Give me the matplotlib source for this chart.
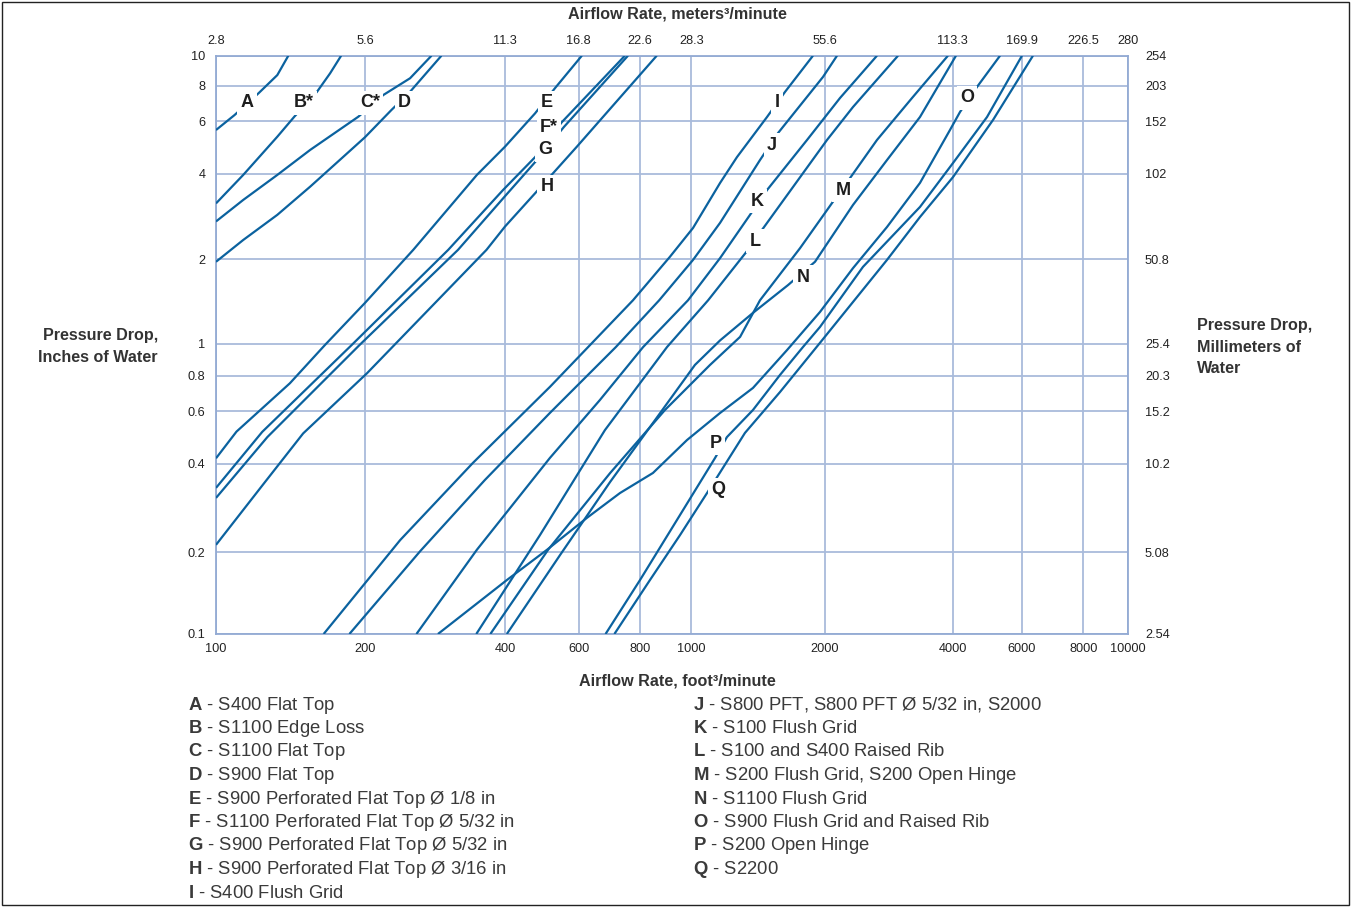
import numpy as np
import matplotlib
matplotlib.use("Agg")
import matplotlib.pyplot as plt
from matplotlib import font_manager as fm
from matplotlib.patches import Rectangle

# ---------------- data ----------------
X_TICKS = [100, 200, 400, 600, 800, 1000, 2000, 4000, 6000, 8000, 10000]
X_TOP_LABELS = ["2.8", "5.6", "11.3", "16.8", "22.6", "28.3", "55.6", "113.3", "169.9", "226.5", "280"]
Y_TICKS = [0.1, 0.2, 0.4, 0.6, 0.8, 1, 2, 4, 6, 8, 10]
Y_RIGHT_LABELS = ["2.54", "5.08", "10.2", "15.2", "20.3", "25.4", "50.8", "102", "152", "203", "254"]

A_x = [100, 109, 122, 133, 140]
A_y = [5.6, 6.3, 7.55, 8.67, 10]
B_x = [100, 113.5, 133, 144, 160, 170, 179]
B_y = [3.15, 3.97, 5.32, 6.22, 7.63, 8.78, 10]
C_x = [100, 113.5, 133, 155, 194, 219, 250, 278]
C_y = [2.72, 3.24, 3.97, 4.81, 6.22, 7.43, 8.47, 10]
D_x = [100, 113.5, 133, 155, 181, 200, 228, 250, 292]
D_y = [1.96, 2.34, 2.87, 3.61, 4.57, 5.3, 6.57, 7.63, 10]
E_x = [100, 110, 141, 166, 200, 254, 348, 400, 472, 527, 609]
E_y = [0.417, 0.512, 0.752, 0.993, 1.40, 2.16, 3.97, 4.93, 6.39, 7.87, 10]
F_x = [100, 124, 188, 302, 396, 472, 547, 746]
F_y = [0.331, 0.511, 0.993, 2.16, 3.51, 4.55, 5.95, 10]
G_x = [100, 127, 195, 317, 400, 472, 553, 757]
G_y = [0.306, 0.491, 0.993, 2.16, 3.34, 4.38, 5.73, 10]
H_x = [100, 125, 150, 202, 365, 400, 472, 512, 594, 861]
H_y = [0.212, 0.343, 0.505, 0.814, 2.16, 2.61, 3.42, 3.91, 4.93, 10]
I_x = [165, 238, 341, 512, 775, 911, 1008, 1160, 1266, 1480, 1625, 1879]
I_y = [0.1, 0.22, 0.402, 0.73, 1.43, 2.04, 2.58, 3.72, 4.55, 6.2, 7.62, 10]
J_x = [186, 263, 362, 512, 715, 870, 1008, 1160, 1427, 1567, 1979, 2135]
J_y = [0.1, 0.202, 0.352, 0.591, 0.979, 1.43, 1.99, 2.69, 4.45, 5.47, 8.55, 10]
K_x = [258, 348, 512, 663, 812, 985, 1160, 1355, 1480, 1822, 2170, 2652]
K_y = [0.1, 0.204, 0.418, 0.656, 0.979, 1.43, 2.02, 2.87, 3.51, 5.19, 7.25, 10]
L_x = [347, 485, 679, 900, 1090, 1341, 1442, 2022, 2328, 2973]
L_y = [0.1, 0.229, 0.518, 0.979, 1.43, 2.16, 2.54, 5.19, 6.73, 10]
M_x = [372, 507, 696, 892, 1101, 1287, 1427, 1757, 2078, 2291, 2652, 3208, 3898]
M_y = [0.1, 0.204, 0.372, 0.605, 0.863, 1.06, 1.43, 2.19, 3.16, 3.87, 5.19, 7.25, 10]
N_x = [404, 541, 696, 855, 1018, 1160, 1376, 1651, 1899, 2328, 2800, 3349, 4078]
N_y = [0.1, 0.195, 0.347, 0.560, 0.863, 1.03, 1.29, 1.62, 1.96, 3.11, 4.45, 6.20, 10]
O_x = [287, 345, 404, 504, 624, 729, 847, 981, 1160, 1376, 1643, 1949, 2328, 2800, 3349, 3941, 4175, 4615, 5283]
O_y = [0.1, 0.128, 0.158, 0.204, 0.262, 0.318, 0.372, 0.480, 0.591, 0.724, 0.959, 1.30, 1.86, 2.60, 3.72, 5.60, 6.46, 7.94, 10]
P_x = [681, 801, 952, 1130, 1202, 1376, 1583, 1784, 1949, 2458, 3349, 4007, 4894, 6008]
P_y = [0.1, 0.158, 0.268, 0.418, 0.491, 0.605, 0.804, 0.979, 1.15, 1.88, 3.06, 4.35, 6.20, 10]
Q_x = [710, 836, 952, 1084, 1142, 1320, 1583, 1949, 2800, 3349, 4007, 5069, 6324]
Q_y = [0.1, 0.158, 0.229, 0.318, 0.360, 0.507, 0.700, 1.01, 1.99, 2.82, 3.90, 6.05, 10]

CURVE_NAMES = ["A", "B", "C", "D", "E", "F", "G", "H", "I", "J", "K", "L", "M", "N", "O", "P", "Q"]
CURVE_LABELS = ["A", "B*", "C*", "D", "E", "F*", "G", "H", "I", "J", "K", "L", "M", "N", "O", "P", "Q"]
LEGEND_LEFT = [
    ("A", "S400 Flat Top"),
    ("B", "S1100 Edge Loss"),
    ("C", "S1100 Flat Top"),
    ("D", "S900 Flat Top"),
    ("E", "S900 Perforated Flat Top Ø 1/8 in"),
    ("F", "S1100 Perforated Flat Top Ø 5/32 in"),
    ("G", "S900 Perforated Flat Top Ø 5/32 in"),
    ("H", "S900 Perforated Flat Top Ø 3/16 in"),
    ("I", "S400 Flush Grid"),
]
LEGEND_RIGHT = [
    ("J", "S800 PFT, S800 PFT Ø 5/32 in, S2000"),
    ("K", "S100 Flush Grid"),
    ("L", "S100 and S400 Raised Rib"),
    ("M", "S200 Flush Grid, S200 Open Hinge"),
    ("N", "S1100 Flush Grid"),
    ("O", "S900 Flush Grid and Raised Rib"),
    ("P", "S200 Open Hinge"),
    ("Q", "S2200"),
]

# ---------------- layout / style ----------------
W, H = 1351, 907
AX_L, AX_R, AX_T, AX_B = 216, 1128.3, 55.7, 634
X_GRID_PX = [216, 365, 505, 578.7, 639.7, 691.5, 825, 952.7, 1021.7, 1083.3, 1128.3]
Y_GRID_PX = [634, 552.3, 463.7, 411, 375.7, 344, 259.3, 174, 121, 86, 55.7]
LABEL_POS = {
    "A": (115.5, 6.96), "B": (150.6, 6.96), "C": (205, 6.96), "D": (243, 6.96),
    "E": (504, 6.96), "F": (510, 5.69), "G": (498, 4.81), "H": (504, 3.6),
    "I": (1558, 6.96), "J": (1519, 4.99), "K": (1405, 3.21), "L": (1391, 2.32),
    "M": (2205, 3.51), "N": (1784, 1.73), "O": (4351, 7.25), "P": (1136, 0.469),
    "Q": (1148, 0.326),
}
LINE_COLOR = "#0b629f"
GRID_COLOR = "#a9bbdb"
SPINE_COLOR = "#93aad3"

names = {f.name for f in fm.fontManager.ttflist}
COND = "Liberation Sans Narrow" if "Liberation Sans Narrow" in names else "Liberation Sans"
NARROW = COND != "Liberation Sans"
REG = "Liberation Sans"
plt.rcParams["font.family"] = [REG, "DejaVu Sans"]
plt.rcParams["mathtext.fontset"] = "custom"
plt.rcParams["mathtext.rm"] = REG
plt.rcParams["mathtext.bf"] = COND + ":bold"


def make_scale(ticks, pos):
    lt = np.log10(np.asarray(ticks, float))
    p = np.asarray(pos, float)

    def fwd(v):
        v = np.asarray(v, float)
        with np.errstate(divide="ignore", invalid="ignore"):
            l = np.log10(np.where(v > 0, v, np.nan))
        out = np.interp(l, lt, p)
        out = np.where(l < lt[0], p[0] + (l - lt[0]) * (p[1] - p[0]) / (lt[1] - lt[0]), out)
        out = np.where(l > lt[-1], p[-1] + (l - lt[-1]) * (p[-1] - p[-2]) / (lt[-1] - lt[-2]), out)
        return out

    def inv(u):
        u = np.asarray(u, float)
        out = np.interp(u, p, lt)
        out = np.where(u < p[0], lt[0] + (u - p[0]) * (lt[1] - lt[0]) / (p[1] - p[0]), out)
        out = np.where(u > p[-1], lt[-1] + (u - p[-1]) * (lt[-1] - lt[-2]) / (p[-1] - p[-2]), out)
        return 10 ** out

    return fwd, inv


xfwd, xinv = make_scale(X_TICKS, [px - X_GRID_PX[0] for px in X_GRID_PX])
yfwd, yinv = make_scale(Y_TICKS, [Y_GRID_PX[0] - py for py in Y_GRID_PX])

fig = plt.figure(figsize=(W / 100, H / 100), dpi=100)
ax = fig.add_axes([AX_L / W, 1 - AX_B / H, (AX_R - AX_L) / W, (AX_B - AX_T) / H])
ax.set_xscale("function", functions=(xfwd, xinv))
ax.set_yscale("function", functions=(yfwd, yinv))
ax.set_xlim(X_TICKS[0], X_TICKS[-1])
ax.set_ylim(Y_TICKS[0], Y_TICKS[-1])
ax.set_xticks(X_TICKS)
ax.set_xticklabels([str(v) for v in X_TICKS])
ax.set_yticks(Y_TICKS)
ax.set_yticklabels([("%g" % v) for v in Y_TICKS])
ax.minorticks_off()
ax.tick_params(axis="both", length=0, labelsize=9.2, colors="#222222")
ax.tick_params(axis="x", pad=6.5)
ax.tick_params(axis="y", pad=7.5)
ax.grid(True, color=GRID_COLOR, lw=1.3)
ax.set_axisbelow(True)
for s in ax.spines.values():
    s.set_color(SPINE_COLOR)
    s.set_linewidth(1.3)

data = globals()
for name in CURVE_NAMES:
    ax.plot(data[name + "_x"], data[name + "_y"], color=LINE_COLOR, lw=1.6,
            solid_joinstyle="round", solid_capstyle="butt", zorder=3, clip_on=True)

for name, lab in zip(CURVE_NAMES, CURVE_LABELS):
    x, y = LABEL_POS[name]
    ax.text(x, y, lab, ha="center", va="center", fontsize=13, fontweight="bold",
            family=COND, color="#1e1e1e", zorder=6,
            bbox=dict(boxstyle="square,pad=0.18", fc="white", ec="none"))

# top axis (m3/min)
axt = ax.twiny()
axt.set_xscale("function", functions=(xfwd, xinv))
axt.set_xlim(X_TICKS[0], X_TICKS[-1])
axt.set_xticks(X_TICKS)
axt.set_xticklabels(X_TOP_LABELS)
axt.minorticks_off()
axt.tick_params(axis="x", length=0, labelsize=9.2, colors="#222222", pad=6.5)
# right axis (mm of water)
axr = ax.twinx()
axr.set_yscale("function", functions=(yfwd, yinv))
axr.set_ylim(Y_TICKS[0], Y_TICKS[-1])
axr.set_yticks(Y_TICKS)
axr.set_yticklabels(Y_RIGHT_LABELS)
axr.minorticks_off()
axr.tick_params(axis="y", length=0, labelsize=9.2, colors="#222222", pad=12)
for a in (axt, axr):
    for s in a.spines.values():
        s.set_visible(False)

TITLE_C = "#333333"
TS = 13.5 if NARROW else 11.6
fig.text(677 / W, 1 - 14 / H, "Airflow Rate, meters³/minute", ha="center", va="center",
         family=COND, fontweight="bold", fontsize=TS, color=TITLE_C)
fig.text(677 / W, 1 - 681 / H, "Airflow Rate, foot³/minute", ha="center", va="center",
         family=COND, fontweight="bold", fontsize=TS, color=TITLE_C)
fig.text(158 / W, 1 - 346.5 / H, "Pressure Drop,\nInches of Water", ha="right", va="center",
         family=COND, fontweight="bold", fontsize=TS, color=TITLE_C, linespacing=1.58)
fig.text(1197 / W, 1 - 347 / H, "Pressure Drop,\nMillimeters of\nWater", ha="left", va="center",
         family=COND, fontweight="bold", fontsize=TS, color=TITLE_C, linespacing=1.55)

LEG_C = "#3a3a3a"
for col_x, items in ((188, LEGEND_LEFT), (693, LEGEND_RIGHT)):
    for i, (letter, desc) in enumerate(items):
        fig.text(col_x / W, 1 - (705 + 23.5 * i) / H, r"$\mathbf{%s}$ - %s" % (letter, desc),
                 ha="left", va="center", fontsize=13.3, color=LEG_C)

fig.patches.append(Rectangle((2 / W, 2 / H), 1 - 4 / W, 1 - 4 / H, transform=fig.transFigure,
                             fill=False, ec="#222222", lw=1.0))

fig.savefig("out.png", dpi=100)
